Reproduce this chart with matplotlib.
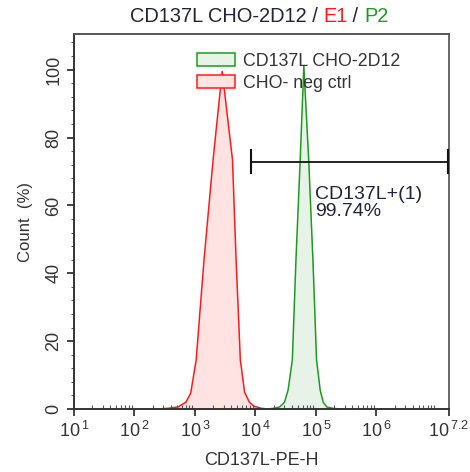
import numpy as np
import matplotlib.pyplot as plt
from matplotlib.patches import Patch
from matplotlib.ticker import FixedLocator, MultipleLocator

plt.rcParams['font.family'] = ['Liberation Sans', 'DejaVu Sans']
plt.rcParams['mathtext.fontset'] = 'custom'
plt.rcParams['mathtext.rm'] = 'Liberation Sans'

# histogram outlines, x in log10(PE-H), y in % of mode
neg_log = [2.40, 2.55, 2.72, 2.85, 2.93, 3.02, 3.15, 3.30, 3.45, 3.62, 3.68, 3.75, 3.82, 3.90, 3.98, 4.10, 4.20]
neg_pct = [0.0, 0.2, 0.6, 2.0, 4.7, 14.5, 44.0, 73.5, 99.5, 73.5, 44.0, 14.5, 5.0, 2.0, 0.8, 0.2, 0.0]
pos_log = [4.20, 4.30, 4.40, 4.48, 4.54, 4.61, 4.67, 4.74, 4.80, 4.88, 4.95, 5.01, 5.07, 5.12, 5.18, 5.28, 5.40]
pos_pct = [0.0, 0.2, 0.6, 2.0, 5.6, 14.5, 44.0, 73.5, 101.0, 73.5, 44.0, 14.5, 5.6, 2.0, 0.6, 0.2, 0.0]

gate_log = [3.93, 7.18]
gate_y = 72.9
gate_label = "CD137L+(1)\n99.74%"

series_names = ["CD137L CHO-2D12", "CHO- neg ctrl"]
decades = [1, 2, 3, 4, 5, 6, 7.2]

navy = '#22223a'
red = '#ff1a1a'
green = '#1e9a1e'

fig = plt.figure(figsize=(4.7, 4.72), dpi=100)
ax = fig.add_axes([74 / 470, 1 - 409 / 472, 375 / 470, 375 / 472])

nx = np.power(10.0, neg_log)
px = np.power(10.0, pos_log)
ax.fill_between(nx, neg_pct, color='#ffe3e3', lw=0, zorder=1)
ax.plot(nx, neg_pct, color=red, lw=1.1, zorder=2)
ax.fill_between(px, pos_pct, color='#e8f3e8', lw=0, zorder=1)
ax.plot(px, pos_pct, color=green, lw=1.1, zorder=2)

# gate marker
gx = np.power(10.0, gate_log)
ax.plot(gx, [gate_y, gate_y], color='#111111', lw=1.3, zorder=3)
for g in gx:
    ax.plot([g, g], [gate_y - 3.3, gate_y + 3.3], color='#111111', lw=1.5, zorder=3)
ax.text(10 ** 4.98, 65.8, gate_label, fontsize=14, color=navy, va='top', ha='left',
        linespacing=1.0, zorder=4,
        bbox=dict(facecolor='white', edgecolor='none', pad=1.0))

ax.set_xscale('log')
ax.set_xlim(10, 10 ** 7.2)
ax.set_ylim(0, 110.5)

ax.xaxis.set_major_locator(FixedLocator([10.0 ** d for d in decades]))
ax.set_xticklabels([r'$\mathregular{10^{\,%s}}$' % (str(d) if d != int(d) else str(int(d))) for d in decades])
ax.xaxis.set_minor_locator(FixedLocator([m * 10.0 ** k for k in range(1, 7) for m in range(2, 10)
                                         if m * 10.0 ** k < 10 ** 7.2]))
ax.yaxis.set_major_locator(MultipleLocator(20))
ax.yaxis.set_minor_locator(MultipleLocator(4))

ax.tick_params(axis='both', which='major', direction='out', length=5, width=1.2,
               colors='#222222', labelsize=13, labelcolor='#333333')
ax.tick_params(axis='x', which='minor', direction='in', length=3, width=0.8, colors='#555555')
ax.tick_params(axis='y', which='minor', direction='out', length=2.5, width=0.8, colors='#555555')
for lab in ax.get_yticklabels():
    lab.set_rotation(90)
    lab.set_va('center')

for s in ax.spines.values():
    s.set_linewidth(1.4)
    s.set_color('#333333')
ax.spines['top'].set_color('#555555')
ax.spines['right'].set_color('#666666')

ax.set_xlabel("CD137L-PE-H", fontsize=13, color='#333333', labelpad=8)
ax.set_ylabel("Count  (%)", fontsize=12, color='#333333', labelpad=9)

handles = [Patch(facecolor='#e8f3e8', edgecolor=green, lw=1.1),
           Patch(facecolor='#ffe3e3', edgecolor=red, lw=1.1)]
ax.legend(handles, series_names, loc='upper left', bbox_to_anchor=(0.328, 0.95),
          frameon=False, fontsize=12.8, handlelength=2.15, handleheight=0.75,
          handletextpad=0.45, labelspacing=0.3, borderaxespad=0, borderpad=0,
          labelcolor='#333333')

# multi-coloured title
parts = [("CD137L CHO-2D12 / ", navy), ("E1", red), (" / ", navy), ("P2", green)]
fig.canvas.draw()
renderer = fig.canvas.get_renderer()
texts = []
total = 0.0
for s, c in parts:
    t = fig.text(0, 1 - 17 / 472, s, color=c, fontsize=14.4, va='center', ha='left')
    w = t.get_window_extent(renderer).width
    texts.append((t, w))
    total += w
x0 = 259 - total / 2
for t, w in texts:
    t.set_x(x0 / 470)
    x0 += w

fig.savefig('out.png', dpi=100)
